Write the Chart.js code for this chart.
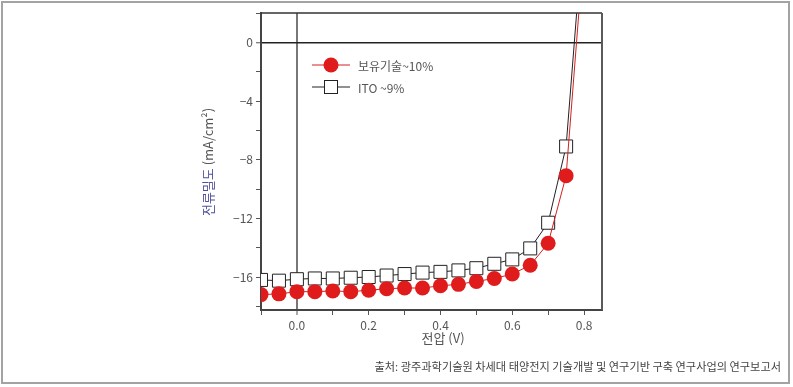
<!DOCTYPE html>
<html>
<head>
<meta charset="utf-8">
<script src="https://cdn.jsdelivr.net/npm/chart.js@4/dist/chart.umd.min.js"></script>
<style>
  html, body { margin: 0; padding: 0; background: #fff; }
  #wrap { width: 793px; height: 387px; }
</style>
</head>
<body>
<div id="wrap"><canvas id="jvChart" width="793" height="387"></canvas></div>
<script>
// 전압 (V)
const voltaje = [-0.1, -0.05, 0, 0.05, 0.1, 0.15, 0.2, 0.25, 0.3, 0.35, 0.4, 0.45, 0.5, 0.55, 0.6, 0.65, 0.7, 0.75, 0.795];
// 보유기술 ~10%  (último punto fuera del área, solo para la línea)
const boyuGisul = [-17.2, -17.15, -17.0, -17.0, -16.95, -17.0, -16.9, -16.8, -16.75, -16.75, -16.6, -16.5, -16.3, -16.1, -15.8, -15.2, -13.7, -9.1, 5.0];
// ITO ~9%
const voltajeITO = [-0.1, -0.05, 0, 0.05, 0.1, 0.15, 0.2, 0.25, 0.3, 0.35, 0.4, 0.45, 0.5, 0.55, 0.6, 0.65, 0.7, 0.75, 0.79];
const ito = [-16.2, -16.25, -16.15, -16.1, -16.1, -16.05, -16.0, -15.9, -15.8, -15.7, -15.65, -15.55, -15.4, -15.1, -14.8, -14.05, -12.3, -7.1, 5.3];

const etiquetas = ['보유기술~10%', 'ITO ~9%'];
const tituloX = '전압 (V)';
const tituloY1 = '전류밀도';
const tituloY2 = ' (mA/cm²)';
const fuente = '출처: 광주과학기술원 차세대 태양전지 기술개발 및 연구기반 구축 연구사업의 연구보고서';

const FONT = '"Noto Sans CJK KR", "Noto Sans", sans-serif';
const GRIS = '#555';

function puntos(xs, ys) {
    return xs.map((x, i) => ({ x: x, y: ys[i] }));
}
function radios(n, r) {
    return Array.from({ length: n }, (_, i) => (i === n - 1 ? 0 : r));
}

// marco, títulos, leyenda y fuente
const extras = {
    id: 'extras',
    beforeDraw(chart) {
        const ctx = chart.ctx;
        ctx.save();
        ctx.fillStyle = '#fff';
        ctx.fillRect(0, 0, chart.width, chart.height);
        ctx.strokeStyle = '#a3a3a3';
        ctx.lineWidth = 2;
        ctx.strokeRect(2, 2, 787, 381);
        ctx.restore();
    },
    afterDraw(chart) {
        const ctx = chart.ctx;
        const a = chart.chartArea;
        ctx.save();
        // marco superior y derecho
        ctx.strokeStyle = '#333';
        ctx.lineWidth = 1.5;
        ctx.beginPath();
        ctx.moveTo(a.left, a.top);
        ctx.lineTo(a.right, a.top);
        ctx.stroke();
        ctx.strokeStyle = '#5a5a5a';
        ctx.lineWidth = 2;
        ctx.beginPath();
        ctx.moveTo(a.right, a.top);
        ctx.lineTo(a.right, a.bottom);
        ctx.stroke();

        // leyenda
        ctx.lineWidth = 1;
        ctx.strokeStyle = '#d42020';
        ctx.beginPath();
        ctx.moveTo(312, 65); ctx.lineTo(350, 65);
        ctx.stroke();
        ctx.fillStyle = '#e01b1b';
        ctx.beginPath();
        ctx.arc(331, 65, 7.5, 0, Math.PI * 2);
        ctx.fill();
        ctx.strokeStyle = '#222';
        ctx.beginPath();
        ctx.moveTo(312, 87); ctx.lineTo(350, 87);
        ctx.stroke();
        ctx.fillStyle = '#fff';
        ctx.fillRect(324.5, 80.5, 13, 13);
        ctx.strokeRect(324.5, 80.5, 13, 13);

        ctx.font = '12px ' + FONT;
        ctx.fillStyle = GRIS;
        ctx.textBaseline = 'middle';
        ctx.textAlign = 'left';
        ctx.fillText(etiquetas[0], 358, 66);
        ctx.fillText(etiquetas[1], 358, 88);

        // título X
        ctx.font = '13px ' + FONT;
        ctx.textAlign = 'center';
        ctx.fillText(tituloX, 443, 338);

        // título Y (dos colores)
        ctx.translate(208, 162);
        ctx.rotate(-Math.PI / 2);
        const w1 = ctx.measureText(tituloY1).width;
        const w2 = ctx.measureText(tituloY2).width;
        ctx.textAlign = 'left';
        ctx.fillStyle = '#4f4f9a';
        ctx.fillText(tituloY1, -(w1 + w2) / 2, 0);
        ctx.fillStyle = GRIS;
        ctx.fillText(tituloY2, -(w1 + w2) / 2 + w1, 0);
        ctx.setTransform(1, 0, 0, 1, 0, 0);

        // fuente
        ctx.font = '11.2px ' + FONT;
        ctx.textAlign = 'right';
        ctx.fillStyle = '#444';
        ctx.fillText(fuente, 781, 367);
        ctx.restore();
    }
};

const config = {
    type: 'line',
    data: {
        datasets: [{
            label: etiquetas[0],
            data: puntos(voltaje, boyuGisul),
            borderColor: '#d42020',
            borderWidth: 1,
            backgroundColor: '#e01b1b',
            pointBorderColor: '#e01b1b',
            pointRadius: radios(voltaje.length, 7.5),
            pointBorderWidth: 0,
            tension: 0
        }, {
            label: etiquetas[1],
            data: puntos(voltajeITO, ito),
            borderColor: '#222',
            borderWidth: 1,
            backgroundColor: '#fff',
            pointBorderColor: '#222',
            pointStyle: 'rect',
            pointRadius: radios(voltajeITO.length, 9.2),
            pointBorderWidth: 1,
            tension: 0
        }]
    },
    options: {
        responsive: false,
        animation: false,
        layout: { padding: { top: 13, right: 191, left: 0, bottom: 0 } },
        plugins: { legend: { display: false }, tooltip: { enabled: false } },
        scales: {
            x: {
                type: 'linear',
                min: -0.1,
                max: 0.85,
                afterFit: s => { s.height = 77; },
                border: { display: true, color: '#444', width: 2 },
                grid: {
                    drawOnChartArea: true,
                    color: c => (c.tick && Math.abs(c.tick.value) < 1e-9 ? '#777' : 'rgba(0,0,0,0)'),
                    lineWidth: c => (c.tick && Math.abs(c.tick.value) < 1e-9 ? 2 : 1),
                    tickColor: '#555',
                    tickLength: 5,
                    tickWidth: 1
                },
                ticks: {
                    stepSize: 0.1,
                    includeBounds: false,
                    color: GRIS,
                    padding: 3,
                    maxRotation: 0,
                    autoSkip: false,
                    font: { family: FONT, size: 12 },
                    callback: v => (Math.round(v * 10) % 2 === 0 ? v.toFixed(1) : '')
                }
            },
            y: {
                min: -18.25,
                max: 2,
                afterFit: s => { s.width = 261; },
                border: { display: true, color: '#444', width: 2 },
                grid: {
                    drawOnChartArea: true,
                    color: c => (c.tick && c.tick.value === 0 ? '#222' : 'rgba(0,0,0,0)'),
                    lineWidth: c => (c.tick && c.tick.value === 0 ? 1.5 : 1),
                    tickColor: '#555',
                    tickLength: 5,
                    tickWidth: 1
                },
                ticks: {
                    stepSize: 2,
                    includeBounds: false,
                    color: GRIS,
                    padding: 3,
                    autoSkip: false,
                    font: { family: FONT, size: 12 },
                    callback: v => (v % 4 === 0 ? (v < 0 ? '\u2212' + Math.abs(v) : String(v)) : '')
                }
            }
        }
    },
    plugins: [extras]
};

new Chart(document.getElementById('jvChart').getContext('2d'), config);
</script>
</body>
</html>
